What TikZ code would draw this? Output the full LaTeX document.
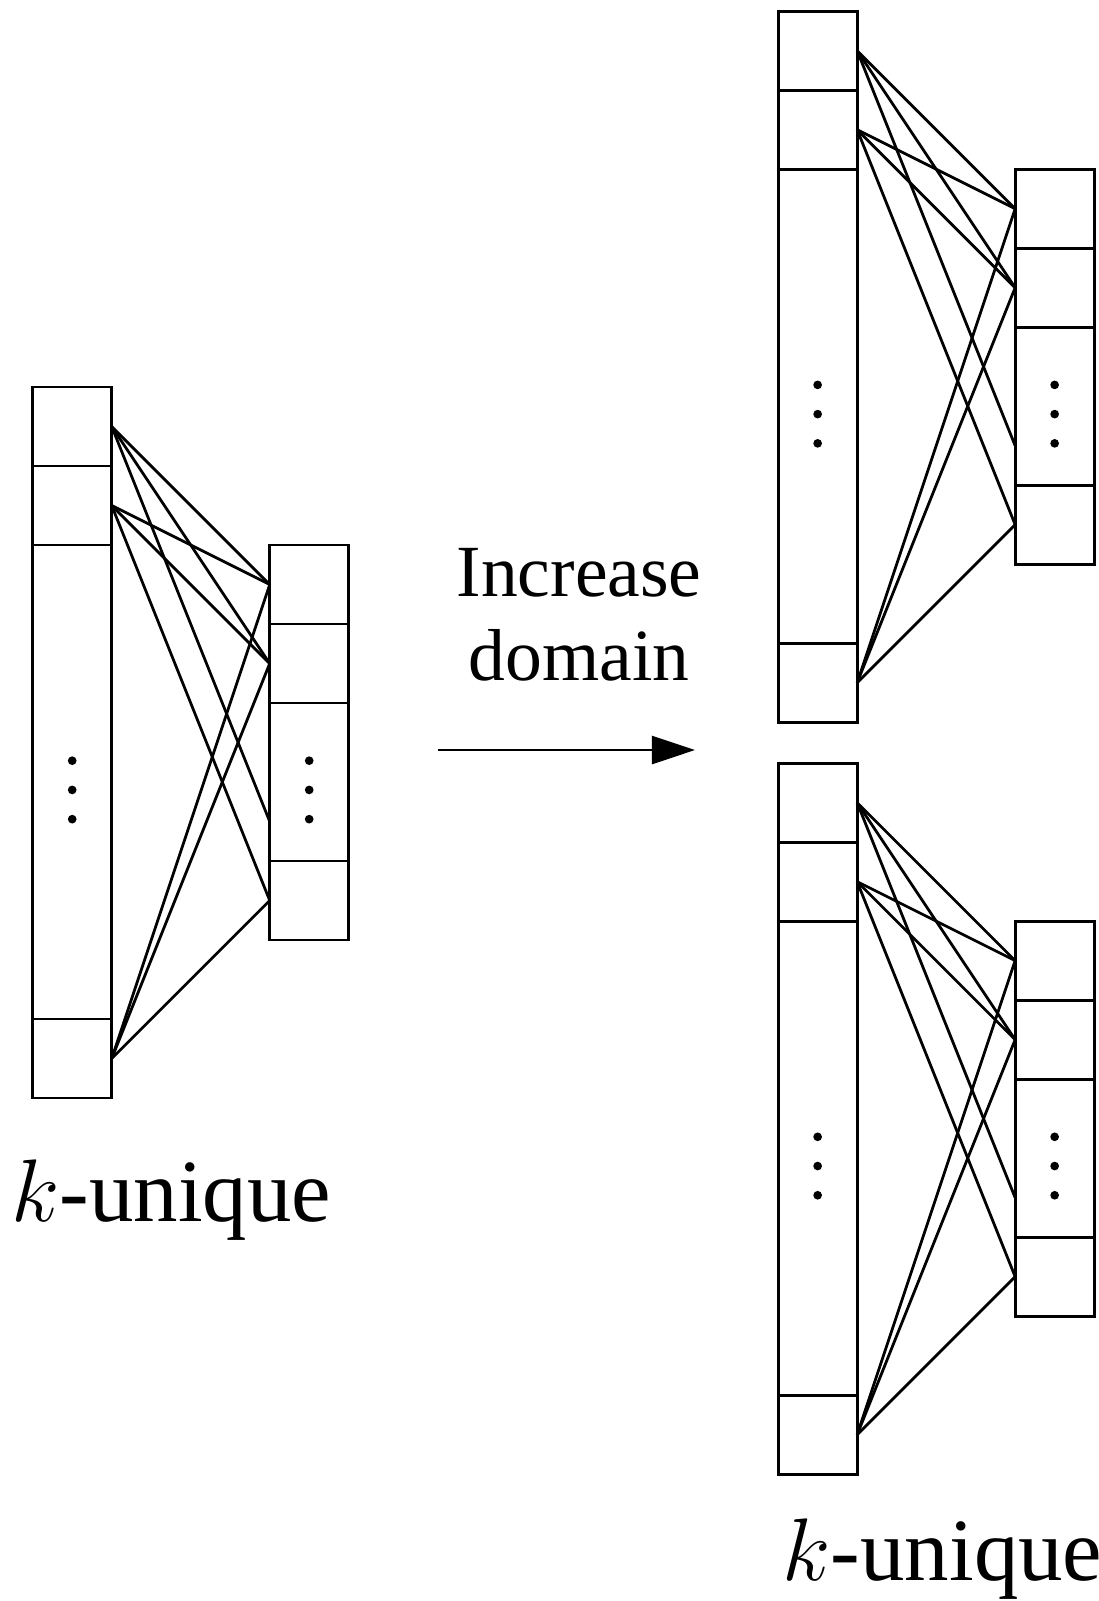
\RequirePackage{fix-cm}
\documentclass[tikz,border=0pt]{standalone}
\usepackage{fontspec}
\setmainfont{Liberation Serif}
\usetikzlibrary{arrows.meta}

\tikzset{
  cell/.style={rectangle, draw, line width=1pt, minimum width=1cm,
    minimum height=1cm, inner sep=0pt, outer sep=0pt},
  link/.style={line width=1pt},
  label text/.style={inner sep=0pt, font=\fontsize{32}{36}\selectfont},
  step text/.style={inner sep=0pt, align=center,
    font=\fontsize{26.5}{30.5}\selectfont},
  % one bipartite block: a column of nine unit cells on the left,
  % a column of five unit cells on the right, joined by links
  kgraph/.pic={
    \node[cell] (-L1) at (0.5,-0.5) {};
    \node[cell] (-L2) at (0.5,-1.5) {};
    \node[cell, minimum height=6cm] (-L3) at (0.5,-5) {};
    \node[cell] (-L4) at (0.5,-8.5) {};
    \node[cell] (-R1) at (3.5,-2.5) {};
    \node[cell] (-R2) at (3.5,-3.5) {};
    \node[cell, minimum height=2cm] (-R3) at (3.5,-5) {};
    \node[cell] (-R4) at (3.5,-6.5) {};
    \coordinate (-R3b) at (3,-5.5);
    \foreach \yy in {4.73,5.10,5.47}{
      \fill (0.5,-\yy) circle [radius=0.055];
      \fill (3.5,-\yy) circle [radius=0.055];
    }
    \draw[link] (-L1.east) -- (-R1.west);
    \draw[link] (-L1.east) -- (-R2.west);
    \draw[link] (-L1.east) -- (-R3b);
    \draw[link] (-L2.east) -- (-R1.west);
    \draw[link] (-L2.east) -- (-R2.west);
    \draw[link] (-L2.east) -- (-R4.west);
    \draw[link] (-L4.east) -- (-R1.west);
    \draw[link] (-L4.east) -- (-R2.west);
    \draw[link] (-L4.east) -- (-R4.west);
  }
}

\begin{document}
\begin{tikzpicture}
  \useasboundingbox (0,0) rectangle (13.911,-20.266);

  % original structure
  \pic (G1) at (0.414,-4.899) {kgraph};
  \node[label text, anchor=base] (klabelA) at (2.17,-15.46) {$k$-unique};

  % the two copies after the domain is enlarged
  \pic (G2) at (9.85,-0.142) {kgraph};
  \pic (G3) at (9.85,-9.66) {kgraph};
  \node[label text, anchor=base] (klabelB) at (11.93,-20.0) {$k$-unique};

  % transformation arrow with its caption
  \coordinate (arrowtail) at (5.548,-9.494);
  \coordinate (arrowtip) at (8.797,-9.494);
  \draw[link, -{Triangle[length=0.544cm, width=0.354cm]}] (arrowtail) -- (arrowtip);
  \node[step text, anchor=base] (steplabel) at (7.33,-8.62) {Increase\\domain};
\end{tikzpicture}
\end{document}
